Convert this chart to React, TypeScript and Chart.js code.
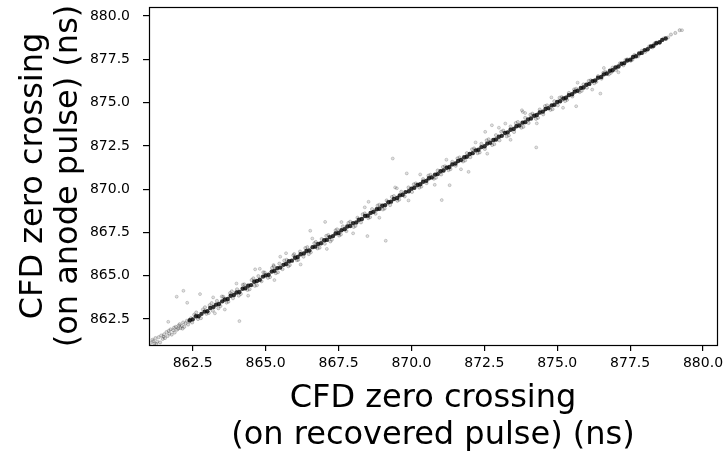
import React, { useEffect, useRef } from "react";
import { Chart, registerables } from "chart.js";

Chart.register(...registerables);

// Axis ranges and tick labels
const axisMin = 861.0;
const xAxisMax = 880.48;
const yAxisMax = 880.52;
const tickValues = [862.5, 865.0, 867.5, 870.0, 872.5, 875.0, 877.5, 880.0];

const xTitle = ["CFD zero crossing", "(on recovered pulse) (ns)"];
const yTitle = ["CFD zero crossing", "(on anode pulse) (ns)"];

// Dense core of events (recovered, anode)
const coreX = [
  862.40, 862.50, 862.61, 862.70, 862.80, 862.91, 863.00, 863.10, 863.21, 863.30,
  863.40, 863.51, 863.60, 863.70, 863.80, 863.91, 864.00, 864.10, 864.21, 864.30,
  864.40, 864.50, 864.61, 864.70, 864.80, 864.91, 865.00, 865.10, 865.21, 865.30,
  865.40, 865.50, 865.61, 865.70, 865.80, 865.90, 866.01, 866.10, 866.20, 866.31,
  866.40, 866.50, 866.61, 866.70, 866.80, 866.90, 867.01, 867.10, 867.20, 867.31,
  867.40, 867.50, 867.60, 867.71, 867.80, 867.90, 868.00, 868.11, 868.20, 868.30,
  868.41, 868.50, 868.60, 868.70, 868.81, 868.90, 869.00, 869.10, 869.21, 869.30,
  869.40, 869.51, 869.60, 869.70, 869.80, 869.91, 870.00, 870.10, 870.21, 870.30,
  870.40, 870.51, 870.60, 870.70, 870.81, 870.90, 871.00, 871.10, 871.21, 871.30,
  871.40, 871.51, 871.60, 871.70, 871.81, 871.90, 872.00, 872.10, 872.21, 872.30,
  872.40, 872.51, 872.60, 872.70, 872.81, 872.90, 873.00, 873.10, 873.21, 873.30,
  873.40, 873.51, 873.60, 873.70, 873.81, 873.90, 874.00, 874.10, 874.21, 874.30,
  874.40, 874.51, 874.60, 874.70, 874.81, 874.90, 875.00, 875.10, 875.21, 875.30,
  875.40, 875.51, 875.60, 875.70, 875.81, 875.90, 876.00, 876.10, 876.21, 876.30,
  876.40, 876.51, 876.60, 876.70, 876.81, 876.90, 877.00, 877.10, 877.21, 877.30,
  877.40, 877.51, 877.60, 877.70, 877.81, 877.90, 878.00, 878.10, 878.21, 878.30,
  878.40, 878.51, 878.60, 878.72,
];
const coreY = [
  862.43, 862.48, 862.66, 862.66, 862.80, 862.93, 862.95, 863.14, 863.20, 863.33,
  863.37, 863.52, 863.63, 863.66, 863.84, 863.89, 864.03, 864.06, 864.25, 864.28,
  864.42, 864.46, 864.65, 864.70, 864.77, 864.95, 865.02, 865.06, 865.24, 865.29,
  865.44, 865.47, 865.63, 865.68, 865.84, 865.87, 866.04, 866.08, 866.24, 866.29,
  866.43, 866.46, 866.65, 866.68, 866.83, 866.88, 867.05, 867.07, 867.23, 867.29,
  867.44, 867.47, 867.63, 867.69, 867.84, 867.87, 868.04, 868.08, 868.23, 868.28,
  868.45, 868.47, 868.63, 868.69, 868.84, 868.87, 869.04, 869.08, 869.24, 869.28,
  869.43, 869.49, 869.64, 869.68, 869.83, 869.88, 870.03, 870.08, 870.24, 870.28,
  870.43, 870.48, 870.63, 870.68, 870.84, 870.87, 871.03, 871.08, 871.24, 871.28,
  871.43, 871.48, 871.63, 871.68, 871.84, 871.87, 872.03, 872.08, 872.24, 872.28,
  872.43, 872.48, 872.63, 872.68, 872.84, 872.87, 873.03, 873.08, 873.24, 873.28,
  873.43, 873.48, 873.63, 873.68, 873.84, 873.87, 874.03, 874.08, 874.24, 874.28,
  874.43, 874.48, 874.63, 874.68, 874.84, 874.87, 875.03, 875.08, 875.24, 875.28,
  875.43, 875.48, 875.63, 875.68, 875.84, 875.87, 876.03, 876.08, 876.24, 876.28,
  876.43, 876.48, 876.63, 876.68, 876.84, 876.87, 877.03, 877.08, 877.24, 877.28,
  877.43, 877.48, 877.63, 877.68, 877.84, 877.87, 878.03, 878.08, 878.24, 878.28,
  878.43, 878.48, 878.62, 878.70,
];

// Looser halo of events around the core
const haloX = [
  861.05, 861.12, 861.15, 861.18, 861.22, 861.25, 861.28, 861.33, 861.38, 861.42,
  861.47, 861.50, 861.52, 861.55, 861.60, 861.64, 861.68, 861.70, 861.74, 861.78,
  861.83, 861.86, 861.88, 861.92, 861.96, 862.00, 862.02, 862.05, 862.08, 862.12,
  862.15, 862.17, 862.21, 862.25, 862.30, 862.34, 862.38, 862.44, 862.48,
  862.55, 862.68, 862.85, 862.97, 863.08, 863.19, 863.33, 863.45, 863.55, 863.66,
  863.78, 863.88, 864.02, 864.15, 864.27, 864.38, 864.52, 864.63, 864.75, 864.86,
  864.97, 865.08, 865.22, 865.35, 865.47, 865.58, 865.72, 865.83, 865.95, 866.07,
  866.18, 866.30, 866.43, 866.55, 866.67, 866.78, 866.92, 867.03, 867.15, 867.27,
  867.40, 867.52, 867.65, 867.77, 867.90, 868.02, 868.15, 868.27, 868.40, 868.52,
  868.65, 868.77, 868.90, 869.02, 869.15, 869.27, 869.40, 869.52, 869.65, 869.77,
  869.90, 870.02, 870.15, 870.27, 870.40, 870.52, 870.65, 870.77, 870.90, 871.02,
  871.15, 871.27, 871.40, 871.52, 871.65, 871.77, 871.90, 872.02, 872.15, 872.27,
  872.40, 872.52, 872.65, 872.77, 872.90, 873.02, 873.15, 873.27, 873.40, 873.52,
  873.65, 873.77, 873.90, 874.02, 874.15, 874.27, 874.40, 874.52, 874.65, 874.77,
  874.90, 875.02, 875.15, 875.27, 875.40, 875.52, 875.65, 875.77, 875.90, 876.02,
  876.15, 876.27, 876.40, 876.52, 876.65, 876.77, 876.90, 877.02, 877.15, 877.27,
  877.40, 877.52, 877.65, 877.77, 877.90, 878.02, 878.15, 878.27, 878.40, 878.52,
  878.65, 878.80, 878.90, 879.05, 879.20,
  862.62, 862.78, 862.92, 863.05, 863.15, 863.38, 863.50, 863.72, 863.84, 864.08,
  864.22, 864.45, 864.58, 864.70, 864.92, 865.15, 865.28, 865.42, 865.64, 865.78,
  865.98, 866.12, 866.36, 866.48, 866.72, 866.85, 867.08, 867.22, 867.45, 867.58,
  867.84, 868.08, 868.33, 868.58, 868.84, 869.08, 869.33, 869.58, 870.08, 870.34,
  870.58, 870.84, 871.08, 871.34, 871.58, 871.84, 872.08, 872.34, 872.58, 872.84,
  873.08, 873.34, 873.58, 873.84, 874.08, 874.34, 874.58, 874.84, 875.08, 875.34,
  875.58, 875.84, 876.08, 876.34, 876.58, 876.84, 877.34, 877.58, 878.34,
];
const haloY = [
  861.12, 861.30, 861.22, 861.08, 861.40, 861.05, 861.20, 861.45, 861.15, 861.55,
  861.35, 861.48, 861.62, 861.40, 861.75, 861.52, 861.82, 861.66, 861.90, 861.60,
  861.85, 862.00, 861.72, 862.05, 861.88, 861.95, 862.12, 862.20, 861.98, 862.10,
  861.95, 862.30, 862.05, 862.25, 862.40, 862.18, 862.35, 862.55, 862.30,
  862.75, 862.50, 863.05, 862.80, 863.30, 862.98, 863.55, 863.25, 863.78, 863.45,
  864.00, 863.70, 864.22, 863.95, 864.50, 864.18, 864.75, 864.42, 864.98, 864.68,
  865.18, 864.88, 865.45, 865.15, 865.70, 865.38, 865.92, 865.62, 866.18, 865.90,
  866.40, 866.10, 866.65, 866.35, 866.88, 866.58, 867.12, 866.85, 867.35, 867.08,
  867.62, 867.32, 867.85, 867.58, 868.12, 867.82, 868.35, 868.08, 868.60, 868.33,
  868.85, 868.58, 869.10, 868.83, 869.35, 869.08, 869.60, 869.33, 869.85, 869.58,
  870.10, 869.84, 870.33, 870.09, 870.58, 870.35, 870.83, 870.60, 871.08, 870.85,
  871.32, 871.10, 871.58, 871.35, 871.83, 871.60, 872.08, 871.85, 872.35, 872.08,
  872.62, 872.32, 872.88, 872.55, 873.12, 872.82, 873.38, 873.05, 873.62, 873.30,
  873.88, 873.55, 874.12, 873.82, 874.36, 874.06, 874.60, 874.32, 874.84, 874.58,
  875.08, 874.84, 875.32, 875.09, 875.56, 875.35, 875.80, 875.61, 876.05, 875.86,
  876.29, 876.12, 876.53, 876.38, 876.78, 876.63, 877.02, 876.89, 877.27, 877.15,
  877.50, 877.41, 877.75, 877.67, 877.99, 877.93, 878.24, 878.19, 878.47, 878.45,
  878.70, 878.76, 878.93, 879.02, 879.18,
  862.88, 862.55, 863.18, 862.85, 863.42, 863.12, 863.80, 863.50, 864.10, 863.85,
  864.48, 864.22, 864.85, 864.45, 865.20, 864.92, 865.55, 865.20, 865.88, 865.55,
  866.25, 865.92, 866.60, 866.25, 866.95, 866.62, 867.30, 866.98, 867.68, 867.38,
  868.05, 867.88, 868.55, 868.38, 869.05, 868.88, 869.55, 869.40, 870.28, 870.15,
  870.78, 870.66, 871.28, 871.16, 871.78, 871.66, 872.30, 872.12, 872.82, 872.60,
  873.32, 873.10, 873.82, 873.60, 874.30, 874.12, 874.80, 874.62, 875.28, 875.16,
  875.76, 875.68, 876.25, 876.20, 876.72, 876.72, 877.46, 877.48, 878.42,
];

// Scattered events away from the diagonal
const outlierX = [
  863.20, 863.60, 864.00, 864.40, 864.80, 865.30, 865.70, 866.20, 866.60, 867.10,
  867.60, 868.00, 868.40, 868.90, 869.50, 869.90, 870.30, 870.80, 871.20, 871.70,
  872.20, 872.60, 873.00, 873.40, 873.90, 874.30, 874.80, 875.20, 875.70, 876.20,
  876.60, 877.10,
  869.36, 871.04, 869.12, 874.28, 872.76, 869.84, 871.31, 868.49, 871.96, 873.22,
  873.82, 869.44, 861.95, 862.18, 862.75, 864.10, 862.31, 861.66, 863.26, 864.64,
  865.27, 865.50, 873.79, 875.65, 876.48, 866.53, 867.04, 868.53, 872.53, 879.28,
];
const outlierY = [
  863.75, 863.05, 864.55, 863.85, 865.40, 864.75, 866.30, 865.65, 867.15, 866.55,
  868.10, 867.45, 868.95, 868.35, 870.05, 869.35, 870.85, 870.25, 871.70, 871.15,
  872.70, 872.05, 873.55, 872.85, 874.40, 873.80, 875.30, 874.70, 876.15, 875.75,
  877.00, 876.75,
  871.77, 869.37, 867.02, 872.41, 873.69, 870.91, 870.23, 867.29, 871.00, 873.79,
  874.46, 870.10, 863.79, 864.13, 863.94, 862.38, 863.44, 862.34, 862.83, 865.37,
  865.62, 866.10, 874.56, 874.79, 875.52, 867.60, 868.11, 869.27, 873.31, 879.18,
];

const FONT = "'DejaVu Sans', sans-serif";

const toPoints = (xs: number[], ys: number[]) => xs.map((x, i) => ({ x, y: ys[i] }));

const framePlugin = {
  id: "frame",
  afterDraw(chart: any) {
    const { ctx, chartArea } = chart;
    ctx.save();
    ctx.strokeStyle = "#000";
    ctx.lineWidth = 1.2;
    ctx.strokeRect(
      Math.round(chartArea.left) + 0.5,
      Math.round(chartArea.top) + 0.5,
      Math.round(chartArea.right - chartArea.left),
      Math.round(chartArea.bottom - chartArea.top)
    );
    ctx.restore();
  },
};

export default function App() {
  const canvasRef = useRef<HTMLCanvasElement | null>(null);

  useEffect(() => {
    if (!canvasRef.current) return;
    const tickCfg = {
      color: "#000",
      font: { family: FONT, size: 14 },
      callback: (v: any) => Number(v).toFixed(1),
    };
    const gridCfg = {
      display: true,
      drawOnChartArea: false,
      drawTicks: true,
      tickLength: 6,
      color: "#000",
      lineWidth: 1.2,
    };
    const chart = new Chart(canvasRef.current, {
      type: "scatter",
      data: {
        datasets: [
          {
            label: "outliers",
            data: toPoints(outlierX, outlierY),
            pointRadius: 1.5,
            backgroundColor: "rgba(0,0,0,0.12)",
            borderColor: "rgba(0,0,0,0.28)",
            borderWidth: 0.6,
          },
          {
            label: "halo",
            data: toPoints(haloX, haloY),
            pointRadius: 1.6,
            backgroundColor: "rgba(0,0,0,0.15)",
            borderColor: "rgba(0,0,0,0.32)",
            borderWidth: 0.6,
          },
          {
            label: "core",
            data: toPoints(coreX, coreY),
            pointRadius: 2.2,
            backgroundColor: "rgba(0,0,0,0.8)",
            borderColor: "rgba(0,0,0,0.8)",
            borderWidth: 0,
          },
        ],
      },
      options: {
        animation: false,
        responsive: true,
        maintainAspectRatio: false,
        layout: { padding: { top: 7, right: 11, left: 0, bottom: 0 } },
        plugins: { legend: { display: false }, tooltip: { enabled: false } },
        scales: {
          x: {
            type: "linear",
            min: axisMin,
            max: xAxisMax,
            afterBuildTicks: (scale: any) => {
              scale.ticks = tickValues.map((value) => ({ value }));
            },
            afterFit: (scale: any) => {
              scale.height = 112;
              scale.paddingLeft = 0;
              scale.paddingRight = 0;
            },
            ticks: { ...tickCfg, padding: 4, maxRotation: 0 },
            grid: gridCfg,
            border: { display: false },
            title: {
              display: true,
              text: xTitle,
              color: "#000",
              font: { family: FONT, size: 32, lineHeight: 1.15 },
              padding: { top: 0, bottom: 3 },
            },
          },
          y: {
            type: "linear",
            min: axisMin,
            max: yAxisMax,
            afterBuildTicks: (scale: any) => {
              scale.ticks = tickValues.map((value) => ({ value }));
            },
            afterFit: (scale: any) => {
              scale.width = 149;
              scale.paddingTop = 0;
              scale.paddingBottom = 0;
            },
            ticks: { ...tickCfg, padding: 13 },
            grid: gridCfg,
            border: { display: false },
            title: {
              display: true,
              text: yTitle,
              color: "#000",
              font: { family: FONT, size: 32, lineHeight: 1.1 },
              padding: { top: 16, bottom: 0 },
            },
          },
        },
      },
      plugins: [framePlugin],
    } as any);
    return () => chart.destroy();
  }, []);

  return (
    <div style={{ position: "absolute", left: 0, top: 0, width: 728, height: 457, background: "#fff" }}>
      <canvas ref={canvasRef} />
    </div>
  );
}
